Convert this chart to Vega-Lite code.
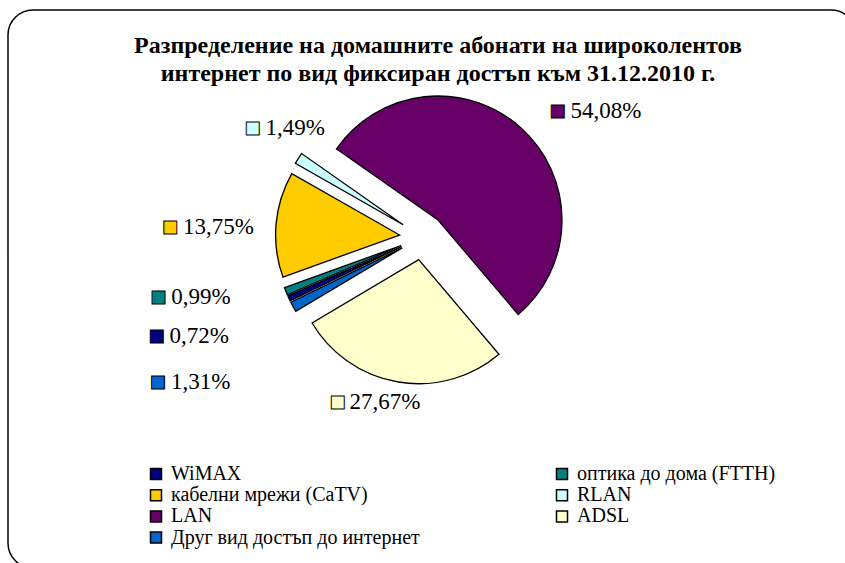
{
  "$schema": "https://vega.github.io/schema/vega-lite/v6.json",
  "width": 848,
  "height": 558,
  "autosize": {"type": "none"},
  "padding": {"left": 8, "top": 10, "right": 0, "bottom": 0},
  "background": "white",
  "view": {"stroke": "black", "strokeWidth": 1.5, "cornerRadius": 25, "fill": "white"},
  "config": {
    "view": {"stroke": "black", "strokeWidth": 1.5, "cornerRadius": 25, "fill": "white"}
  },
  "title": {
    "text": ["Разпределение на домашните абонати на широколентов", "интернет по вид фиксиран достъп към 31.12.2010 г."],
    "font": "Liberation Serif", "fontSize": 24, "fontWeight": "bold", "color": "black",
    "anchor": "middle", "frame": "group", "dx": 6, "lineHeight": 28.5, "offset": -97
  },
  "data": {"values": [
    {"cat": "WiMAX", "pct": 0.72, "label": "0,72%", "order": 1},
    {"cat": "оптика до дома (FTTH)", "pct": 0.99, "label": "0,99%", "order": 2},
    {"cat": "кабелни мрежи (CaTV)", "pct": 13.75, "label": "13,75%", "order": 3},
    {"cat": "RLAN", "pct": 1.49, "label": "1,49%", "order": 4},
    {"cat": "LAN", "pct": 54.08, "label": "54,08%", "order": 5},
    {"cat": "ADSL", "pct": 27.67, "label": "27,67%", "order": 6},
    {"cat": "Друг вид достъп до интернет", "pct": 1.31, "label": "1,31%", "order": 7}
  ]},
  "transform": [{"stack": "pct", "groupby": [], "sort": [{"field": "order", "order": "ascending"}], "as": ["v0", "v1"]}],
  "layer": [
    {"transform": [{"filter": {"field": "cat", "equal": "WiMAX"}}],
     "mark": {"type": "arc", "outerRadius": 124, "stroke": "black", "strokeWidth": 1.3, "xOffset": -30.4, "yOffset": -42.4},
     "encoding": {
       "theta": {"field": "v0", "type": "quantitative", "scale": {"domain": [0, 100.01], "range": [4.25861, 10.54179]}},
       "theta2": {"field": "v1"},
       "color": {"field": "cat", "type": "nominal",
         "scale": {"domain": ["WiMAX", "кабелни мрежи (CaTV)", "LAN", "Друг вид достъп до интернет", "оптика до дома (FTTH)", "RLAN", "ADSL"],
                   "range": ["#000080", "#FFCC00", "#660066", "#0066CC", "#008080", "#CCFFFF", "#FFFFCC"]},
         "legend": {"orient": "none", "legendX": 138, "legendY": 454, "columns": 2, "padding": 0, "title": null,
           "symbolType": "square", "symbolSize": 121, "symbolStrokeColor": "black", "symbolStrokeWidth": 1.5, "symbolOpacity": 1,
           "labelFont": "Times New Roman, Liberation Serif, DejaVu Serif, serif", "labelFontSize": 20, "labelColor": "black", "labelLimit": 400,
           "labelOffset": 5, "rowPadding": 1.2, "columnPadding": 132}}
     }},
    {"transform": [{"filter": {"field": "cat", "equal": "оптика до дома (FTTH)"}}],
     "mark": {"type": "arc", "outerRadius": 124, "stroke": "black", "strokeWidth": 1.3, "xOffset": -30.9, "yOffset": -43.5},
     "encoding": {
       "theta": {"field": "v0", "type": "quantitative", "scale": {"domain": [0, 100.01], "range": [4.25861, 10.54179]}},
       "theta2": {"field": "v1"},
       "color": {"field": "cat", "type": "nominal"}
     }},
    {"transform": [{"filter": {"field": "cat", "equal": "кабелни мрежи (CaTV)"}}],
     "mark": {"type": "arc", "outerRadius": 124, "stroke": "black", "strokeWidth": 1.3, "xOffset": -32.4, "yOffset": -54.0},
     "encoding": {
       "theta": {"field": "v0", "type": "quantitative", "scale": {"domain": [0, 100.01], "range": [4.25861, 10.54179]}},
       "theta2": {"field": "v1"},
       "color": {"field": "cat", "type": "nominal"}
     }},
    {"transform": [{"filter": {"field": "cat", "equal": "RLAN"}}],
     "mark": {"type": "arc", "outerRadius": 124, "stroke": "black", "strokeWidth": 1.3, "xOffset": -28.9, "yOffset": -64.3},
     "encoding": {
       "theta": {"field": "v0", "type": "quantitative", "scale": {"domain": [0, 100.01], "range": [4.25861, 10.54179]}},
       "theta2": {"field": "v1"},
       "color": {"field": "cat", "type": "nominal"}
     }},
    {"transform": [{"filter": {"field": "cat", "equal": "LAN"}}],
     "mark": {"type": "arc", "outerRadius": 124, "stroke": "black", "strokeWidth": 1.3, "xOffset": 6.0, "yOffset": -69.0},
     "encoding": {
       "theta": {"field": "v0", "type": "quantitative", "scale": {"domain": [0, 100.01], "range": [4.25861, 10.54179]}},
       "theta2": {"field": "v1"},
       "color": {"field": "cat", "type": "nominal"}
     }},
    {"transform": [{"filter": {"field": "cat", "equal": "ADSL"}}],
     "mark": {"type": "arc", "outerRadius": 124, "stroke": "black", "strokeWidth": 1.3, "xOffset": -13.3, "yOffset": -29.3},
     "encoding": {
       "theta": {"field": "v0", "type": "quantitative", "scale": {"domain": [0, 100.01], "range": [4.25861, 10.54179]}},
       "theta2": {"field": "v1"},
       "color": {"field": "cat", "type": "nominal"}
     }},
    {"transform": [{"filter": {"field": "cat", "equal": "Друг вид достъп до интернет"}}],
     "mark": {"type": "arc", "outerRadius": 124, "stroke": "black", "strokeWidth": 1.3, "xOffset": -29.7, "yOffset": -41.1},
     "encoding": {
       "theta": {"field": "v0", "type": "quantitative", "scale": {"domain": [0, 100.01], "range": [4.25861, 10.54179]}},
       "theta2": {"field": "v1"},
       "color": {"field": "cat", "type": "nominal"}
     }},

    {"mark": {"type": "text", "text": "■", "font": "DejaVu Sans", "fontSize": 17, "stroke": "black", "strokeWidth": 1, "align": "center", "baseline": "middle", "dx": 1.5, "dy": -42.0},
     "encoding": {"theta": {"field": "pct", "type": "quantitative", "stack": true, "scale": {"domain": [0, 100.01], "range": [4.25861, 10.54179]}}, "order": {"field": "order", "type": "quantitative"}, "radius": {"value": 184.0}, "color": {"field": "cat", "type": "nominal"}, "opacity": {"condition": {"test": "datum.cat === 'LAN'", "value": 1}, "value": 0}}},
    {"mark": {"type": "text", "font": "Times New Roman, Liberation Serif, DejaVu Serif, serif", "fontSize": 23, "color": "black", "align": "left", "baseline": "middle", "dx": 14.5, "dy": -42.0},
     "encoding": {"theta": {"field": "pct", "type": "quantitative", "stack": true, "scale": {"domain": [0, 100.01], "range": [4.25861, 10.54179]}}, "order": {"field": "order", "type": "quantitative"}, "detail": {"field": "cat"}, "radius": {"value": 184.0}, "text": {"condition": {"test": "datum.cat === 'LAN'", "field": "label"}, "value": ""}}},

    {"mark": {"type": "text", "text": "■", "font": "DejaVu Sans", "fontSize": 17, "stroke": "black", "strokeWidth": 1, "align": "center", "baseline": "middle", "dx": -9.0, "dy": -52.7},
     "encoding": {"theta": {"field": "pct", "type": "quantitative", "stack": true, "scale": {"domain": [0, 100.01], "range": [4.25861, 10.54179]}}, "order": {"field": "order", "type": "quantitative"}, "radius": {"value": 201.7}, "color": {"field": "cat", "type": "nominal"}, "opacity": {"condition": {"test": "datum.cat === 'RLAN'", "value": 1}, "value": 0}}},
    {"mark": {"type": "text", "font": "Times New Roman, Liberation Serif, DejaVu Serif, serif", "fontSize": 23, "color": "black", "align": "left", "baseline": "middle", "dx": 4.0, "dy": -52.7},
     "encoding": {"theta": {"field": "pct", "type": "quantitative", "stack": true, "scale": {"domain": [0, 100.01], "range": [4.25861, 10.54179]}}, "order": {"field": "order", "type": "quantitative"}, "detail": {"field": "cat"}, "radius": {"value": 201.7}, "text": {"condition": {"test": "datum.cat === 'RLAN'", "field": "label"}, "value": ""}}},

    {"mark": {"type": "text", "text": "■", "font": "DejaVu Sans", "fontSize": 17, "stroke": "black", "strokeWidth": 1, "align": "center", "baseline": "middle", "dx": -10.4, "dy": -40.9},
     "encoding": {"theta": {"field": "pct", "type": "quantitative", "stack": true, "scale": {"domain": [0, 100.01], "range": [4.25861, 10.54179]}}, "order": {"field": "order", "type": "quantitative"}, "radius": {"value": 252.5}, "color": {"field": "cat", "type": "nominal"}, "opacity": {"condition": {"test": "datum.cat === 'кабелни мрежи (CaTV)'", "value": 1}, "value": 0}}},
    {"mark": {"type": "text", "font": "Times New Roman, Liberation Serif, DejaVu Serif, serif", "fontSize": 23, "color": "black", "align": "left", "baseline": "middle", "dx": 2.6, "dy": -40.9},
     "encoding": {"theta": {"field": "pct", "type": "quantitative", "stack": true, "scale": {"domain": [0, 100.01], "range": [4.25861, 10.54179]}}, "order": {"field": "order", "type": "quantitative"}, "detail": {"field": "cat"}, "radius": {"value": 252.5}, "text": {"condition": {"test": "datum.cat === 'кабелни мрежи (CaTV)'", "field": "label"}, "value": ""}}},

    {"mark": {"type": "text", "text": "■", "font": "DejaVu Sans", "fontSize": 17, "stroke": "black", "strokeWidth": 1, "align": "center", "baseline": "middle", "dx": -25.0, "dy": -91.0},
     "encoding": {"theta": {"field": "pct", "type": "quantitative", "stack": true, "scale": {"domain": [0, 100.01], "range": [4.25861, 10.54179]}}, "order": {"field": "order", "type": "quantitative"}, "radius": {"value": 267.6}, "color": {"field": "cat", "type": "nominal"}, "opacity": {"condition": {"test": "datum.cat === 'оптика до дома (FTTH)'", "value": 1}, "value": 0}}},
    {"mark": {"type": "text", "font": "Times New Roman, Liberation Serif, DejaVu Serif, serif", "fontSize": 23, "color": "black", "align": "left", "baseline": "middle", "dx": -12.0, "dy": -91.0},
     "encoding": {"theta": {"field": "pct", "type": "quantitative", "stack": true, "scale": {"domain": [0, 100.01], "range": [4.25861, 10.54179]}}, "order": {"field": "order", "type": "quantitative"}, "detail": {"field": "cat"}, "radius": {"value": 267.6}, "text": {"condition": {"test": "datum.cat === 'оптика до дома (FTTH)'", "field": "label"}, "value": ""}}},

    {"mark": {"type": "text", "text": "■", "font": "DejaVu Sans", "fontSize": 17, "stroke": "black", "strokeWidth": 1, "align": "center", "baseline": "middle", "dx": -18.3, "dy": -71.3},
     "encoding": {"theta": {"field": "pct", "type": "quantitative", "stack": true, "scale": {"domain": [0, 100.01], "range": [4.25861, 10.54179]}}, "order": {"field": "order", "type": "quantitative"}, "radius": {"value": 283.1}, "color": {"field": "cat", "type": "nominal"}, "opacity": {"condition": {"test": "datum.cat === 'WiMAX'", "value": 1}, "value": 0}}},
    {"mark": {"type": "text", "font": "Times New Roman, Liberation Serif, DejaVu Serif, serif", "fontSize": 23, "color": "black", "align": "left", "baseline": "middle", "dx": -5.3, "dy": -71.3},
     "encoding": {"theta": {"field": "pct", "type": "quantitative", "stack": true, "scale": {"domain": [0, 100.01], "range": [4.25861, 10.54179]}}, "order": {"field": "order", "type": "quantitative"}, "detail": {"field": "cat"}, "radius": {"value": 283.1}, "text": {"condition": {"test": "datum.cat === 'WiMAX'", "field": "label"}, "value": ""}}},

    {"mark": {"type": "text", "text": "■", "font": "DejaVu Sans", "fontSize": 17, "stroke": "black", "strokeWidth": 1, "align": "center", "baseline": "middle", "dx": -8.6, "dy": -50.5},
     "encoding": {"theta": {"field": "pct", "type": "quantitative", "stack": true, "scale": {"domain": [0, 100.01], "range": [4.25861, 10.54179]}}, "order": {"field": "order", "type": "quantitative"}, "radius": {"value": 301.7}, "color": {"field": "cat", "type": "nominal"}, "opacity": {"condition": {"test": "datum.cat === 'Друг вид достъп до интернет'", "value": 1}, "value": 0}}},
    {"mark": {"type": "text", "font": "Times New Roman, Liberation Serif, DejaVu Serif, serif", "fontSize": 23, "color": "black", "align": "left", "baseline": "middle", "dx": 4.4, "dy": -50.5},
     "encoding": {"theta": {"field": "pct", "type": "quantitative", "stack": true, "scale": {"domain": [0, 100.01], "range": [4.25861, 10.54179]}}, "order": {"field": "order", "type": "quantitative"}, "detail": {"field": "cat"}, "radius": {"value": 301.7}, "text": {"condition": {"test": "datum.cat === 'Друг вид достъп до интернет'", "field": "label"}, "value": ""}}},

    {"mark": {"type": "text", "text": "■", "font": "DejaVu Sans", "fontSize": 17, "stroke": "black", "strokeWidth": 1, "align": "center", "baseline": "middle", "dx": -65.3, "dy": -61.3},
     "encoding": {"theta": {"field": "pct", "type": "quantitative", "stack": true, "scale": {"domain": [0, 100.01], "range": [4.25861, 10.54179]}}, "order": {"field": "order", "type": "quantitative"}, "radius": {"value": 177.2}, "color": {"field": "cat", "type": "nominal"}, "opacity": {"condition": {"test": "datum.cat === 'ADSL'", "value": 1}, "value": 0}}},
    {"mark": {"type": "text", "font": "Times New Roman, Liberation Serif, DejaVu Serif, serif", "fontSize": 23, "color": "black", "align": "left", "baseline": "middle", "dx": -53.3, "dy": -61.3},
     "encoding": {"theta": {"field": "pct", "type": "quantitative", "stack": true, "scale": {"domain": [0, 100.01], "range": [4.25861, 10.54179]}}, "order": {"field": "order", "type": "quantitative"}, "detail": {"field": "cat"}, "radius": {"value": 177.2}, "text": {"condition": {"test": "datum.cat === 'ADSL'", "field": "label"}, "value": ""}}}
  ]
}
